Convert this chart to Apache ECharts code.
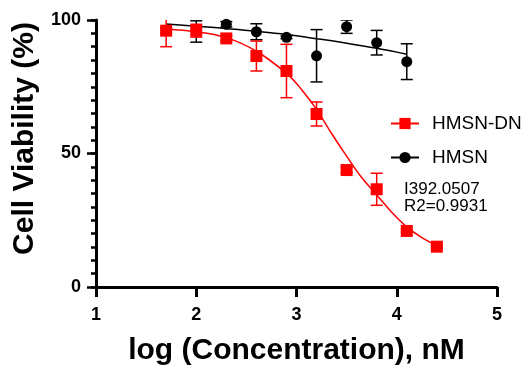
<!DOCTYPE html>
<html>
<head>
<meta charset="utf-8">
<script src="https://cdn.jsdelivr.net/npm/echarts@6/dist/echarts.min.js"></script>
<style>
  html, body { margin: 0; padding: 0; background: #fff; }
  #chart { width: 525px; height: 368px; }
</style>
</head>
<body>
<div id="chart"></div>
<script>
// log concentration (nM)
const doseX = [1.7, 2.0, 2.3, 2.6, 2.9, 3.2, 3.5, 3.8, 4.1, 4.4];

// HMSN-DN measured viability and SD
const dnMean = [96.0, 96.0, 93.1, 86.5, 80.9, 64.8, 43.8, 36.6, 21.0, 15.1];
const dnSd = [6.0, 2.4, 1.0, 5.6, 10.0, 4.5, 1.0, 6.0, 0.5, 0.5];

// HMSN measured viability and SD
const hmsnX = [1.7, 2.0, 2.3, 2.6, 2.9, 3.2, 3.5, 3.8, 4.1];
const hmsnMean = [96.0, 95.7, 98.4, 95.6, 93.5, 86.6, 97.5, 91.5, 84.4];
const hmsnSd = [1.0, 4.0, 1.0, 3.0, 0.5, 9.8, 2.5, 4.6, 6.7];

// fitted curves
const dnFitX = [1.7, 2.0, 2.3, 2.6, 2.9, 3.05, 3.2, 3.35, 3.5, 3.65, 3.8, 3.95, 4.1, 4.25, 4.4];
const dnFitY = [96.5, 95.6, 93.4, 88.3, 80.0, 74.0, 66.5, 57.5, 49.0, 41.0, 34.5, 28.0, 22.5, 18.5, 15.5];
const hmsnFitX = [1.7, 2.0, 2.3, 2.6, 2.9, 3.2, 3.5, 3.8, 4.1];
const hmsnFitY = [98.5, 97.7, 96.8, 95.8, 94.6, 93.0, 91.3, 89.4, 87.2];

const xTicks = [1, 2, 3, 4, 5];
const yTicks = [0, 50, 100];
const fitNote = 'I392.0507\nR2=0.9931';

const RED = '#ff0000';
const BLACK = '#000000';
const FONT = 'Arial, "Liberation Sans", Helvetica, sans-serif';

const zip = (xs, ys) => xs.map((x, i) => [x, ys[i]]);
const errRows = (xs, m, sd) => xs.map((x, i) => [x, m[i] - sd[i], m[i] + sd[i]]);

const errBar = (color) => (params, api) => {
  const x = api.value(0);
  const lo = api.coord([x, api.value(1)]);
  const hi = api.coord([x, api.value(2)]);
  const hw = 6;
  const st = { stroke: color, lineWidth: 1.5 };
  return {
    type: 'group',
    children: [
      { type: 'line', shape: { x1: hi[0], y1: hi[1], x2: lo[0], y2: lo[1] }, style: st },
      { type: 'line', shape: { x1: hi[0] - hw, y1: hi[1], x2: hi[0] + hw, y2: hi[1] }, style: st },
      { type: 'line', shape: { x1: lo[0] - hw, y1: lo[1], x2: lo[0] + hw, y2: lo[1] }, style: st },
    ],
  };
};

const chart = echarts.init(document.getElementById('chart'), null, { renderer: 'canvas' });

const option = {
  animation: false,
  textStyle: { fontFamily: FONT },
  grid: { left: 96, right: 28, top: 20, bottom: 81, outerBoundsMode: 'none' },
  legend: {
    data: ['HMSN-DN', 'HMSN'],
    orient: 'vertical',
    left: 385,
    top: 109,
    itemWidth: 28,
    itemHeight: 14,
    itemGap: 15,
    selectedMode: false,
    textStyle: { fontSize: 19, color: '#000', padding: [0, 0, 0, 8], fontFamily: FONT },
  },
  graphic: [
    {
      type: 'text',
      left: 404,
      top: 181,
      style: { text: fitNote, font: '17px ' + FONT, lineHeight: 17, fill: '#000' },
    },
  ],
  xAxis: {
    type: 'value',
    min: 1,
    max: 5,
    interval: 1,
    name: 'log (Concentration), nM',
    nameLocation: 'middle',
    nameGap: 49,
    nameTextStyle: { fontSize: 30, fontWeight: 'bold', color: '#000', fontFamily: FONT },
    axisLine: { lineStyle: { color: '#000', width: 3 } },
    axisTick: { length: 10, lineStyle: { color: '#000', width: 3 } },
    axisLabel: {
      margin: 19,
      fontSize: 18,
      fontWeight: 'bold',
      color: '#000',
      fontFamily: FONT,
      formatter: (v) => (xTicks.includes(v) ? String(v) : ''),
    },
    splitLine: { show: false },
  },
  yAxis: [
    {
      type: 'value',
      min: 0,
      max: 100,
      interval: 50,
      name: 'Cell Viability (%)',
      nameLocation: 'middle',
      nameGap: 56,
      nameTextStyle: {
        fontSize: 30,
        fontWeight: 'bold',
        color: '#000',
        fontFamily: FONT,
        padding: [0, 0, 0, 30],
      },
      axisLine: { show: true, lineStyle: { color: '#000', width: 3 } },
      axisTick: { show: true, length: 9, lineStyle: { color: '#000', width: 2.5 } },
      axisLabel: {
        margin: 15,
        fontSize: 18,
        fontWeight: 'bold',
        color: '#000',
        fontFamily: FONT,
        formatter: (v) => (yTicks.includes(v) ? String(v) : ''),
      },
      splitLine: { show: false },
      z: 3,
    },
    {
      // minor ticks every 5
      type: 'value',
      position: 'left',
      min: 0,
      max: 100,
      interval: 5,
      axisLine: { show: false },
      axisTick: { show: true, length: 5, lineStyle: { color: '#000', width: 2.5 } },
      axisLabel: { show: false },
      splitLine: { show: false },
      z: 2,
    },
  ],
  series: [
    {
      name: 'HMSN',
      type: 'line',
      data: zip(hmsnFitX, hmsnFitY),
      smooth: 0.4,
      symbol: 'circle',
      showSymbol: false,
      lineStyle: { color: BLACK, width: 1.5 },
      itemStyle: { color: BLACK },
      silent: true,
      z: 2,
    },
    {
      type: 'custom',
      clip: true,
      renderItem: errBar(BLACK),
      data: errRows(hmsnX, hmsnMean, hmsnSd),
      silent: true,
      z: 3,
    },
    {
      type: 'scatter',
      data: zip(hmsnX, hmsnMean),
      symbol: 'circle',
      symbolSize: 11,
      itemStyle: { color: BLACK, opacity: 1 },
      silent: true,
      z: 4,
    },
    {
      name: 'HMSN-DN',
      type: 'line',
      data: zip(dnFitX, dnFitY),
      smooth: 0.4,
      symbol: 'rect',
      showSymbol: false,
      lineStyle: { color: RED, width: 1.5 },
      itemStyle: { color: RED },
      silent: true,
      z: 5,
    },
    {
      type: 'custom',
      clip: true,
      renderItem: errBar(RED),
      data: errRows(doseX, dnMean, dnSd),
      silent: true,
      z: 6,
    },
    {
      type: 'scatter',
      data: zip(doseX, dnMean),
      symbol: 'rect',
      symbolSize: 12,
      itemStyle: { color: RED, opacity: 1 },
      silent: true,
      z: 7,
    },
  ],
};

chart.setOption(option);
</script>
</body>
</html>
